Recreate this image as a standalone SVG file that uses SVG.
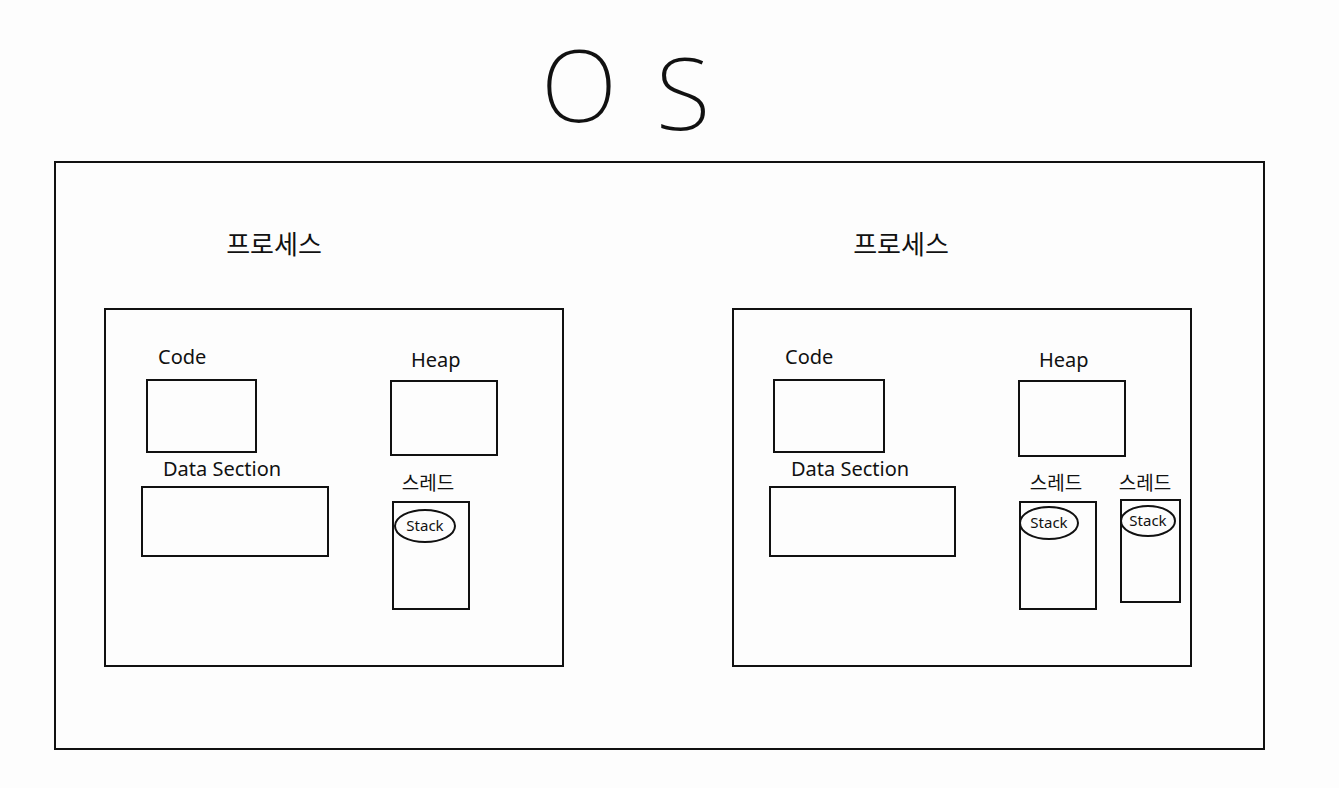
<svg xmlns="http://www.w3.org/2000/svg" width="1339" height="788" viewBox="0 0 1339 788">
<style>
.box{fill:none;stroke:#111;stroke-width:2}
.t{font-family:"Noto Sans","Noto Sans CJK KR",sans-serif;fill:#111}
.lbl{font-size:20px}
.kr{font-size:26px;font-family:"Noto Sans CJK KR",sans-serif;fill:#111}
.krs{font-size:19px;font-family:"Noto Sans CJK KR",sans-serif;fill:#111}
.stk{font-size:15px}
.big{font-size:100px;font-weight:200}
</style>
<rect width="1339" height="788" fill="#fdfdfd"/>
<g id="os-title">
<text class="t big" x="579" y="122" text-anchor="middle">O</text>
<text class="t big" x="683" y="130" text-anchor="middle">S</text>
</g>
<g id="os"><rect class="box" x="55" y="162" width="1209" height="587"/></g>
<g id="process-left">
<text class="kr" x="274" y="254" text-anchor="middle">프로세스</text>
<rect class="box" x="105" y="309" width="458" height="357"/>
</g>
<g id="code-left"><text class="t lbl" x="158" y="364">Code</text><rect class="box" x="147" y="380" width="109" height="72"/></g>
<g id="heap-left"><text class="t lbl" x="411" y="367">Heap</text><rect class="box" x="391" y="381" width="106" height="74"/></g>
<g id="data-left"><text class="t lbl" x="163" y="476">Data Section</text><rect class="box" x="142" y="487" width="186" height="69"/></g>
<g id="thread-left">
<text class="krs" x="428" y="490" text-anchor="middle">스레드</text>
<rect class="box" x="393" y="502" width="76" height="107"/>
<ellipse class="box" cx="425" cy="526" rx="30" ry="16"/>
<text class="t stk" x="425" y="531" text-anchor="middle">Stack</text>
</g>
<g id="process-right">
<text class="kr" x="901" y="254" text-anchor="middle">프로세스</text>
<rect class="box" x="733" y="309" width="458" height="357"/>
</g>
<g id="code-right"><text class="t lbl" x="785" y="364">Code</text><rect class="box" x="774" y="380" width="110" height="72"/></g>
<g id="heap-right"><text class="t lbl" x="1039" y="367">Heap</text><rect class="box" x="1019" y="381" width="106" height="75"/></g>
<g id="data-right"><text class="t lbl" x="791" y="476">Data Section</text><rect class="box" x="770" y="487" width="185" height="69"/></g>
<g id="thread-right-1">
<text class="krs" x="1056" y="490" text-anchor="middle">스레드</text>
<rect class="box" x="1020" y="502" width="76" height="107"/>
<ellipse class="box" cx="1049" cy="523" rx="29" ry="16"/>
<text class="t stk" x="1049" y="528" text-anchor="middle">Stack</text>
</g>
<g id="thread-right-2">
<text class="krs" x="1145" y="490" text-anchor="middle">스레드</text>
<rect class="box" x="1121" y="500" width="59" height="102"/>
<ellipse class="box" cx="1148" cy="521" rx="27" ry="15"/>
<text class="t stk" x="1148" y="526" text-anchor="middle">Stack</text>
</g>
<g id="connectors"/>
</svg>
